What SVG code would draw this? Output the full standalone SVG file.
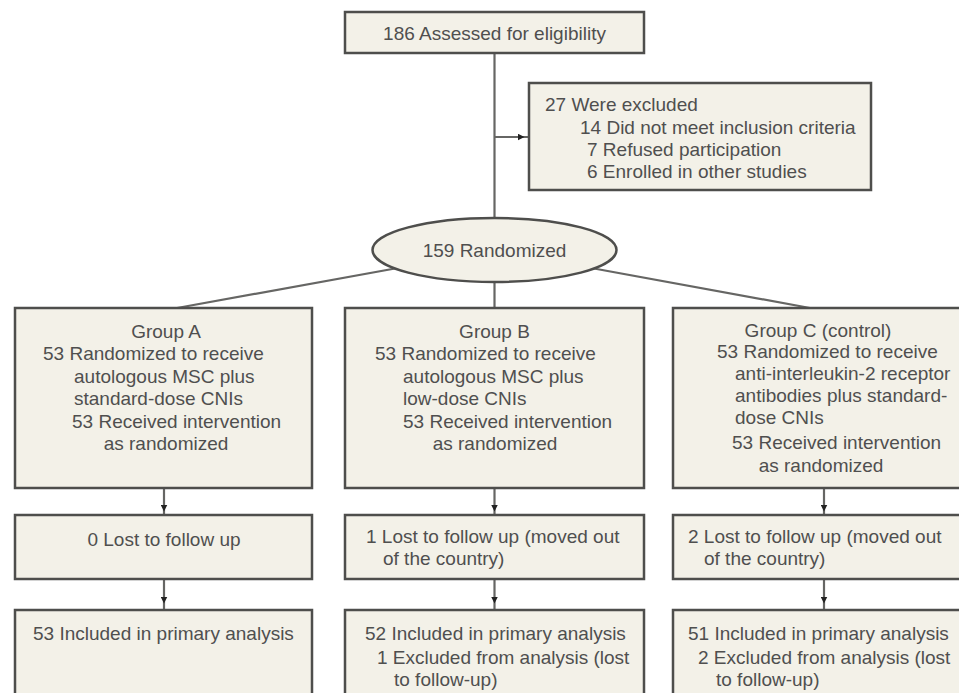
<svg xmlns="http://www.w3.org/2000/svg" width="959" height="693" viewBox="0 0 959 693">
<style>
  .box { fill: #f3f1e8; stroke: #4e4e4c; stroke-width: 2.5; }
  .t { font-family: "Liberation Sans", Arial, sans-serif; font-size: 19px; fill: #4f4f4f; }
  .c { text-anchor: middle; }
  .conn { fill: none; stroke: #666664; stroke-width: 2.2; }
  .arr { marker-mid: url(#ah); }
</style>
<defs>
  <marker id="ah" viewBox="0 0 6 6" refX="3" refY="3" markerWidth="7" markerHeight="7" markerUnits="userSpaceOnUse" orient="auto">
    <path d="M0,0 L6,3 L0,6 z" fill="#222"/>
  </marker>
</defs>
<rect width="959" height="693" fill="#ffffff"/>

<g id="connectors">
  <path class="conn" d="M494.5 53 L494.5 218"/>
  <path class="conn arr" d="M494.5 137 L521 137 L529 137"/>
  <path class="conn" d="M395 268.5 L177 308"/>
  <path class="conn" d="M494.5 282 L494.5 308"/>
  <path class="conn" d="M594 268.5 L810 308"/>
  <path class="conn arr" d="M164 488 L164 508 L164 515"/>
  <path class="conn arr" d="M164 579 L164 600 L164 610"/>
  <path class="conn arr" d="M494.5 488 L494.5 508 L494.5 515"/>
  <path class="conn arr" d="M494.5 579 L494.5 600 L494.5 610"/>
  <path class="conn arr" d="M824 488 L824 508 L824 515"/>
  <path class="conn arr" d="M824 579 L824 600 L824 610"/>
</g>

<g id="assessed">
  <rect class="box" x="345" y="12" width="299" height="41"/>
  <text class="t c" x="494.5" y="40">186 Assessed for eligibility</text>
</g>

<g id="excluded">
  <rect class="box" x="529" y="83" width="342" height="107"/>
  <text class="t" x="545" y="111">27 Were excluded</text>
  <text class="t" x="580" y="134">14 Did not meet inclusion criteria</text>
  <text class="t" x="587" y="156">7 Refused participation</text>
  <text class="t" x="587" y="178">6 Enrolled in other studies</text>
</g>

<g id="randomized">
  <ellipse class="box" cx="494.5" cy="250" rx="122" ry="32"/>
  <text class="t c" x="494.5" y="257">159 Randomized</text>
</g>

<g id="groupA">
  <rect class="box" x="15" y="308" width="297" height="180"/>
  <text class="t c" x="166" y="338">Group A</text>
  <text class="t" x="43" y="360">53 Randomized to receive</text>
  <text class="t" x="74" y="383">autologous MSC plus</text>
  <text class="t" x="74" y="405">standard-dose CNIs</text>
  <text class="t" x="72" y="428">53 Received intervention</text>
  <text class="t c" x="166" y="450">as randomized</text>
</g>

<g id="groupB">
  <rect class="box" x="345" y="308" width="299" height="180"/>
  <text class="t c" x="494.5" y="338">Group B</text>
  <text class="t" x="375" y="360">53 Randomized to receive</text>
  <text class="t" x="403" y="383">autologous MSC plus</text>
  <text class="t" x="403" y="405">low-dose CNIs</text>
  <text class="t" x="403" y="428">53 Received intervention</text>
  <text class="t c" x="495" y="450">as randomized</text>
</g>

<g id="groupC">
  <rect class="box" x="673" y="308" width="300" height="180"/>
  <text class="t c" x="818" y="337">Group C (control)</text>
  <text class="t" x="717" y="358">53 Randomized to receive</text>
  <text class="t" x="735" y="380">anti-interleukin-2 receptor</text>
  <text class="t" x="735" y="402">antibodies plus standard-</text>
  <text class="t" x="735" y="424">dose CNIs</text>
  <text class="t" x="732" y="449">53 Received intervention</text>
  <text class="t c" x="821" y="472">as randomized</text>
</g>

<g id="lostA">
  <rect class="box" x="15" y="515" width="297" height="64"/>
  <text class="t c" x="164" y="546">0 Lost to follow up</text>
</g>

<g id="lostB">
  <rect class="box" x="345" y="515" width="299" height="64"/>
  <text class="t" x="366" y="543">1 Lost to follow up (moved out</text>
  <text class="t" x="383" y="565">of the country)</text>
</g>

<g id="lostC">
  <rect class="box" x="673" y="515" width="300" height="64"/>
  <text class="t" x="688" y="543">2 Lost to follow up (moved out</text>
  <text class="t" x="704" y="565">of the country)</text>
</g>

<g id="inclA">
  <rect class="box" x="15" y="610" width="297" height="100"/>
  <text class="t" x="33" y="640">53 Included in primary analysis</text>
</g>

<g id="inclB">
  <rect class="box" x="345" y="610" width="299" height="100"/>
  <text class="t" x="365" y="640">52 Included in primary analysis</text>
  <text class="t" x="377" y="664">1 Excluded from analysis (lost</text>
  <text class="t" x="394" y="686">to follow-up)</text>
</g>

<g id="inclC">
  <rect class="box" x="673" y="610" width="300" height="100"/>
  <text class="t" x="688" y="640">51 Included in primary analysis</text>
  <text class="t" x="698" y="664">2 Excluded from analysis (lost</text>
  <text class="t" x="716" y="686">to follow-up)</text>
</g>
</svg>
